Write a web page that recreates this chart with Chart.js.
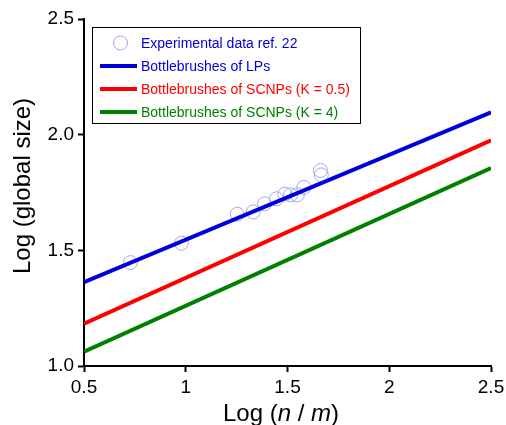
<!DOCTYPE html>
<html>
<head>
<meta charset="utf-8">
<script src="https://cdn.jsdelivr.net/npm/chart.js@4"></script>
<style>
  body { margin: 0; background: #fff; }
  canvas { display: block; }
</style>
</head>
<body>
<canvas id="sizeChart" width="506" height="425"></canvas>
<script>
// Data
const lineX = [0.5, 2.5];
const lpY = [1.362, 2.097];
const scnpK05Y = [1.183, 1.976];
const scnpK4Y = [1.062, 1.856];

const expX = [0.728, 0.979, 1.253, 1.331, 1.387, 1.446, 1.487, 1.515, 1.548, 1.580, 1.662, 1.666];
const expY = [1.447, 1.531, 1.656, 1.666, 1.701, 1.723, 1.743, 1.740, 1.740, 1.772, 1.845, 1.826];

const xTicks = [0.5, 1, 1.5, 2, 2.5];
const yTicks = [1.0, 1.5, 2.0, 2.5];

const legendLabels = [
    "Experimental data ref. 22",
    "Bottlebrushes of LPs",
    "Bottlebrushes of SCNPs (K = 0.5)",
    "Bottlebrushes of SCNPs (K = 4)",
];

const BLUE = "#0000d8";
const RED = "#ff0000";
const GREEN = "#008000";
const CIRCLE = "#a4a4ee";
const FONT = "Liberation Sans, Arial, sans-serif";

function toPoints(xs, ys) {
    return xs.map((x, i) => ({ x: x, y: ys[i] }));
}

// Legend box inside the plot + axis titles (x title has italic parts)
const decorations = {
    id: "decorations",
    afterDraw(chart) {
        const c = chart.ctx;
        c.save();

        // legend box
        c.strokeStyle = "#000";
        c.lineWidth = 1;
        c.strokeRect(92.5, 27.5, 268, 96);

        const rows = [43, 66, 89, 112];
        const colors = [BLUE, BLUE, RED, GREEN];
        c.font = "14px " + FONT;
        c.textBaseline = "middle";
        c.textAlign = "left";
        rows.forEach((y, i) => {
            if (i === 0) {
                c.beginPath();
                c.arc(120.5, y, 7, 0, Math.PI * 2);
                c.strokeStyle = CIRCLE;
                c.lineWidth = 1;
                c.stroke();
            } else {
                c.beginPath();
                c.moveTo(100, y);
                c.lineTo(137, y);
                c.strokeStyle = colors[i];
                c.lineWidth = 4;
                c.stroke();
            }
            c.fillStyle = colors[i];
            c.fillText(legendLabels[i], 141, y + 1);
        });

        // y title
        c.fillStyle = "#000";
        c.font = "24px " + FONT;
        c.textBaseline = "alphabetic";
        c.save();
        c.translate(30, 186);
        c.rotate(-Math.PI / 2);
        c.textAlign = "center";
        c.fillText("Log (global size)", 0, 0);
        c.restore();

        // x title: Log (n / m) with italic n and m
        const parts = [
            ["Log (", false],
            ["n", true],
            [" / ", false],
            ["m", true],
            [")", false],
        ];
        let total = 0;
        parts.forEach(p => {
            c.font = (p[1] ? "italic " : "") + "24px " + FONT;
            total += c.measureText(p[0]).width;
        });
        let x = 281 - total / 2;
        c.textAlign = "left";
        parts.forEach(p => {
            c.font = (p[1] ? "italic " : "") + "24px " + FONT;
            c.fillText(p[0], x, 421);
            x += c.measureText(p[0]).width;
        });

        c.restore();
    },
};

const ctx = document.getElementById("sizeChart").getContext("2d");

new Chart(ctx, {
    type: "scatter",
    data: {
        datasets: [
            {
                label: legendLabels[1],
                data: toPoints(lineX, lpY),
                showLine: true,
                borderColor: BLUE,
                borderWidth: 4,
                pointRadius: 0,
                order: 1,
            },
            {
                label: legendLabels[2],
                data: toPoints(lineX, scnpK05Y),
                showLine: true,
                borderColor: RED,
                borderWidth: 4,
                pointRadius: 0,
                order: 2,
            },
            {
                label: legendLabels[3],
                data: toPoints(lineX, scnpK4Y),
                showLine: true,
                borderColor: GREEN,
                borderWidth: 4,
                pointRadius: 0,
                order: 3,
            },
            {
                label: legendLabels[0],
                data: toPoints(expX, expY),
                showLine: false,
                pointStyle: "circle",
                pointRadius: 7,
                pointBorderWidth: 1,
                pointBorderColor: CIRCLE,
                pointBackgroundColor: "rgba(0,0,0,0)",
                order: 4,
            },
        ],
    },
    options: {
        responsive: false,
        animation: false,
        devicePixelRatio: 1,
        layout: {
            padding: { top: 19, right: 15, left: 0, bottom: 0 },
        },
        plugins: {
            legend: { display: false },
            tooltip: { enabled: false },
        },
        scales: {
            x: {
                type: "linear",
                min: 0.5,
                max: 2.5,
                afterBuildTicks(scale) {
                    scale.ticks = xTicks.map(v => ({ value: v }));
                },
                afterFit(scale) {
                    scale.height = 59;
                    scale.paddingLeft = 0;
                    scale.paddingRight = 0;
                },
                ticks: {
                    color: "#000",
                    font: { family: FONT, size: 19 },
                    padding: 4,
                    maxRotation: 0,
                    callback: v => String(v),
                },
                grid: {
                    drawOnChartArea: false,
                    drawTicks: true,
                    tickLength: 6,
                    tickWidth: 2,
                    tickColor: "#000",
                },
                border: { display: true, color: "#000", width: 2 },
            },
            y: {
                type: "linear",
                min: 1.0,
                max: 2.5,
                afterBuildTicks(scale) {
                    scale.ticks = yTicks.map(v => ({ value: v }));
                },
                afterFit(scale) {
                    scale.width = 84;
                },
                ticks: {
                    color: "#000",
                    font: { family: FONT, size: 19 },
                    padding: 4,
                    callback: v => v.toFixed(1),
                },
                grid: {
                    drawOnChartArea: false,
                    drawTicks: true,
                    tickLength: 6,
                    tickWidth: 2,
                    tickColor: "#000",
                },
                border: { display: true, color: "#000", width: 2 },
            },
        },
    },
    plugins: [decorations],
});
</script>
</body>
</html>
